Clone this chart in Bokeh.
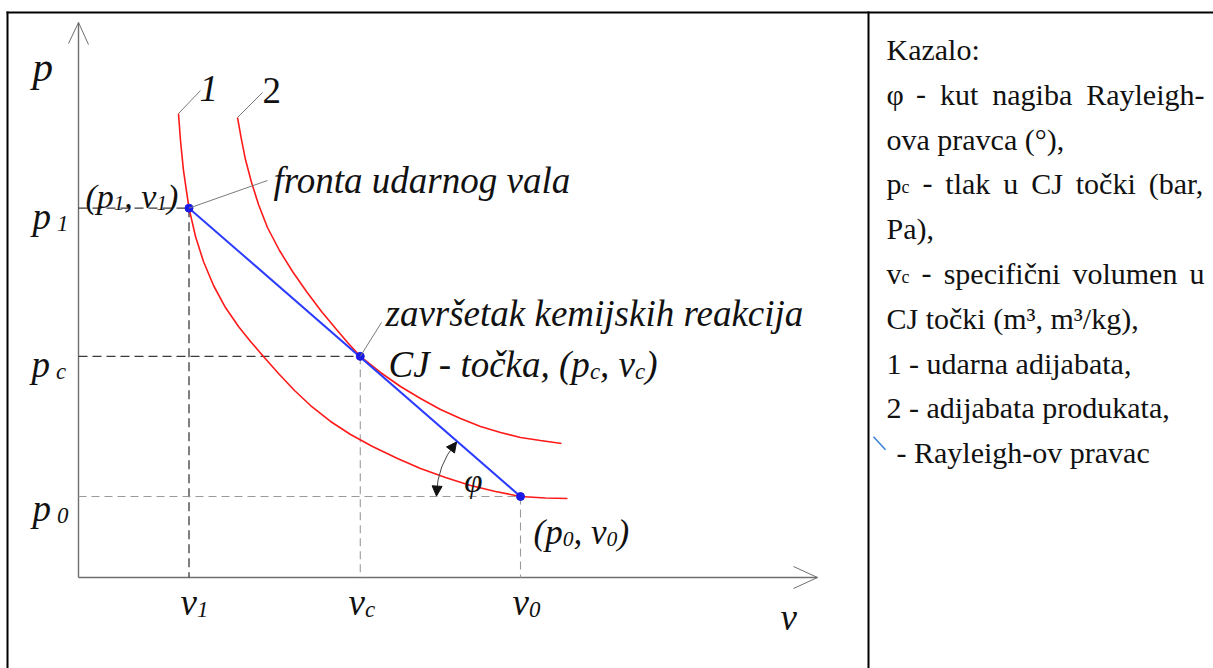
import math
from bokeh.plotting import figure
from bokeh.models import Range1d, Arrow, NormalHead
from bokeh.core.properties import value
from bokeh.embed import file_html
from bokeh.resources import INLINE

# ---------------- data (relative units: v = specific volume, p = pressure) ----------------
V1, VC, V0 = 1.0, 2.55, 4.0          # v1, vc, v0
P1, PC, P0 = 4.56, 2.73, 1.0         # p1, pc, p0

# curve 1 - udarna adijabata
curve1_v = [0.905, 0.923, 0.950, 1.0, 1.059, 1.131, 1.222, 1.330, 1.448, 1.557, 1.674, 1.810,
            1.955, 2.100, 2.281, 2.462, 2.661, 2.887, 3.095, 3.321, 3.548, 3.774, 4.0, 4.226, 4.425]
curve1_p = [5.728, 5.395, 5.025, 4.56, 4.210, 3.901, 3.605, 3.333, 3.099, 2.914, 2.728, 2.519,
            2.309, 2.123, 1.926, 1.765, 1.617, 1.469, 1.346, 1.235, 1.136, 1.062, 1.0, 0.981, 0.975]

# curve 2 - adijabata produkata
curve2_v = [1.439, 1.475, 1.511, 1.566, 1.629, 1.710, 1.819, 1.937, 2.063, 2.199, 2.335, 2.443,
            2.55, 2.733, 2.914, 3.095, 3.276, 3.457, 3.638, 3.819, 4.0, 4.181, 4.371]
curve2_p = [5.679, 5.407, 5.160, 4.877, 4.605, 4.321, 4.037, 3.778, 3.531, 3.284, 3.062, 2.889,
            2.73, 2.531, 2.358, 2.210, 2.074, 1.963, 1.864, 1.790, 1.728, 1.691, 1.654]

legend_title = "Kazalo:"
legend_plain = {2: "ova pravca (°),", 4: "Pa),", 6: "CJ točki (m³, m³/kg),",
                7: "1 - udarna adijabata,", 8: "2 - adijabata produkata,"}
legend_justified = {1: [("φ", None), ("-", None), ("kut", None), ("nagiba", None), ("Rayleigh-", None)],
                    3: [("p", "c"), ("-", None), ("tlak", None), ("u", None), ("CJ", None),
                        ("točki", None), ("(bar,", None)],
                    5: [("v", "c"), ("-", None), ("specifični", None), ("volumen", None), ("u", None)]}
legend_rayleigh = "- Rayleigh-ov pravac"

# ---------------- layout ----------------
W, H = 1213, 668
OX, OY = 78, 577          # screen position of diagram origin
SX, SY = 110.5, 81.0      # screen px per unit


def X(sx):
    return (sx - OX) / SX


def Y(sy):
    return (OY - sy) / SY


p = figure(width=W, height=H, x_range=Range1d(X(0), X(W)), y_range=Range1d(Y(H), Y(0)),
           output_backend="svg", toolbar_location=None, min_border=0,
           x_axis_type=None, y_axis_type=None)
p.grid.visible = False
p.outline_line_color = None
p.background_fill_color = "white"
p.border_fill_color = "white"

SERIF = "Liberation Serif"
IT_W = {' ': .25, '(': .333, ')': .333, ',': .25, '-': .333, 'C': .667, 'J': .444, 'a': .5,
        'c': .444, 'k': .444, 'o': .5, 'p': .5, 't': .278, 'v': .444, 'č': .444}
RG_W = {' ': .25, '(': .333, ')': .333, ',': .25, '-': .333, '°': .4, 'φ': .521,
        'C': .667, 'J': .389, 'K': .722, 'P': .556, 'R': .667,
        'a': .444, 'b': .5, 'c': .444, 'd': .5, 'e': .444, 'f': .333, 'g': .5, 'h': .5,
        'i': .278, 'j': .278, 'k': .5, 'l': .278, 'm': .778, 'n': .5, 'o': .5, 'p': .5,
        'r': .333, 's': .389, 't': .278, 'u': .5, 'v': .5, 'y': .5, 'z': .444, 'č': .444}


def width(s, size, italic):
    table = IT_W if italic else RG_W
    return sum(table.get(ch, 0.5) for ch in s) * size


def txt(sx, sy, s, size, italic=False, align="left", color="#111111"):
    p.text(x=[X(sx)], y=[Y(sy)], text=[s], text_font=value(SERIF),
           text_font_size=f"{size}px", text_font_style="italic" if italic else "normal",
           text_align=align, text_baseline="alphabetic", text_color=color)


def seq(sx, sy, pieces, size, italic=True, sub_scale=0.62, sub_drop=0.18, gap=0.0):
    x = sx
    for s, sub in pieces:
        sz = size * sub_scale if sub else size
        yy = sy + size * sub_drop if sub else sy
        txt(x, yy, s, round(sz, 1), italic)
        x += width(s, sz, italic) + (gap if not sub else 0)
    return x


# ---- table borders ----
p.segment(x0=[X(6)], y0=[Y(12)], x1=[X(W)], y1=[Y(12)], line_color="black", line_width=2)
p.segment(x0=[X(7)], y0=[Y(11)], x1=[X(7)], y1=[Y(H)], line_color="black", line_width=2)
p.segment(x0=[X(868)], y0=[Y(11)], x1=[X(868)], y1=[Y(H)], line_color="black", line_width=2)

# ---- axes with open arrows ----
AX = "#6f6f6f"
p.segment(x0=[0, 0], y0=[0, 0], x1=[0, X(817)], y1=[Y(22), 0], line_color=AX, line_width=1.4)
p.segment(x0=[X(68), X(88), X(793), X(793)], y0=[Y(43), Y(44), Y(566), Y(588)],
          x1=[0, 0, X(817), X(817)], y1=[Y(22), Y(22), 0, 0], line_color=AX, line_width=1)

# ---- dashed reference lines ----
p.segment(x0=[0, 0, V1], y0=[P1, PC, P1], x1=[V1, VC, V1], y1=[P1, PC, 0],
          line_color="#3a3a3a", line_width=1.3, line_dash="9 5")
p.segment(x0=[0, VC, V0], y0=[P0, PC, P0], x1=[V0, VC, V0], y1=[P0, 0, 0],
          line_color="#9a9a9a", line_width=1.1, line_dash="8 5")

# ---- curves ----
p.line(curve1_v, curve1_p, line_color="#ff1a1a", line_width=1.6)
p.line(curve2_v, curve2_p, line_color="#ff1a1a", line_width=1.6)
p.line([V1, V0], [P1, P0], line_color="#2b3cff", line_width=2)
p.scatter([V1, VC, V0], [P1, PC, P0], size=8, color="#1a1ae6")

# ---- leader lines ----
LC = "#7a7a7a"
p.segment(x0=[curve1_v[0], curve2_v[0], V1, VC], y0=[curve1_p[0], curve2_p[0], P1, PC],
          x1=[X(200), X(262), X(267), X(381)], y1=[Y(90), Y(92), Y(180), Y(322)],
          line_color=LC, line_width=1)

# ---- angle phi ----
R = 84
ang_line = math.atan2((P1 - P0) * SY, (V1 - V0) * SX)
p.arc(x=[V0], y=[P0], radius=R, radius_units="screen", start_angle=ang_line + 0.03,
      end_angle=math.pi - 0.03, line_color="#444444", line_width=1)


def arc_pt(a):
    return V0 + R * math.cos(a) / SX, P0 + R * math.sin(a) / SY


for a0, a1 in [(ang_line + 0.12, ang_line + 0.01), (math.pi - 0.12, math.pi - 0.005)]:
    xs, ys = arc_pt(a0)
    xe, ye = arc_pt(a1)
    p.add_layout(Arrow(end=NormalHead(size=10, fill_color="#111111", line_color="#111111"),
                       x_start=xs, y_start=ys, x_end=xe, y_end=ye,
                       line_color="#444444", line_width=1))
txt(473, 480, "φ", 33, italic=True, align="center")

# ---- diagram labels ----
FS = 37
txt(32, 66, "p", 41, italic=True)
txt(780, 617, "v", 37, italic=True)
txt(199, 88, "1", FS, italic=True)
txt(262, 90, "2", FS, italic=False)

seq(32, 216, [("p", 0), ("1", 1)], FS, gap=6)
seq(31, 364, [("p", 0), ("c", 1)], FS, gap=6)
seq(32, 508, [("p", 0), ("0", 1)], FS, gap=6)

seq(180, 602, [("v", 0), ("1", 1)], FS)
seq(348, 602, [("v", 0), ("c", 1)], FS)
seq(512, 602, [("v", 0), ("0", 1)], FS)

seq(85, 196, [("(p", 0), ("1", 1), (", v", 0), ("1", 1), (")", 0)], 34)
txt(273, 180, "fronta udarnog vala", FS, italic=True)
txt(385, 313, "završetak kemijskih reakcija", FS, italic=True)
seq(388, 364, [("CJ - točka, (p", 0), ("c", 1), (", v", 0), ("c", 1), (")", 0)], FS)
seq(533, 532, [("(p", 0), ("0", 1), (", v", 0), ("0", 1), (")", 0)], 35)

# ---- legend (right column) ----
LS = 30
LX, RX = 886, 1204
SUBS = 0.6


def base(i):
    return 49 + 44.8 * i


txt(LX, base(0), legend_title, LS)
for i, s in legend_plain.items():
    txt(LX, base(i), s, LS)

# justified lines: spaces stretched so the line fills the column
for i, words in legend_justified.items():
    widths = [width(w, LS, False) + (width(s, LS * SUBS, False) if s else 0) for w, s in words]
    gap = (RX - LX - sum(widths)) / (len(words) - 1)
    x = LX
    for (w, s), wd in zip(words, widths):
        if s:
            seq(x, base(i), [(w, 0), (s, 1)], LS, italic=False, sub_scale=SUBS, sub_drop=0.1)
        else:
            txt(x, base(i), w, LS)
        x += wd + gap

p.segment(x0=[X(873)], y0=[Y(base(9) - 16)], x1=[X(885)], y1=[Y(base(9) - 3)],
          line_color="#3a7fd5", line_width=1.5)
txt(896, base(9), legend_rayleigh, LS)

open("out.html", "w").write(file_html(p, INLINE))
